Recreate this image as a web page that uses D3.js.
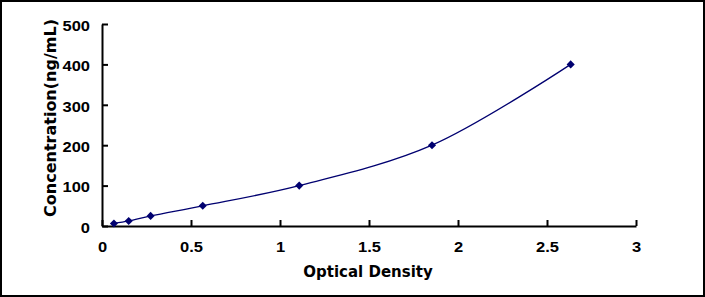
<!DOCTYPE html>
<html>
<head>
<meta charset="utf-8">
<script src="https://cdn.jsdelivr.net/npm/d3@7"></script>
<style>
  html, body { margin: 0; padding: 0; background: #fff; }
  svg { display: block; font-family: "DejaVu Sans", sans-serif; }
</style>
</head>
<body>
<div id="chart"></div>
<script>
// standard curve points
const opticalDensity = [0.067, 0.15, 0.273, 0.566, 1.108, 1.854, 2.633];
const concentration = [6.25, 12.5, 25, 50, 100, 200, 400];
const xTicks = [0, 0.5, 1, 1.5, 2, 2.5, 3];
const yTicks = [0, 100, 200, 300, 400, 500];

const width = 705, height = 297;
const plotLeft = 102, plotRight = 636, plotTop = 24, plotBottom = 226;
const labelStretch = 1.1; // tick labels in the source are wide

const svg = d3.select('#chart')
  .append('svg')
    .attr('width', width)
    .attr('height', height);

// outer frame
svg.append('rect')
  .attr('x', 1).attr('y', 1)
  .attr('width', width - 2).attr('height', height - 2)
  .attr('fill', '#fff')
  .attr('stroke', '#000')
  .attr('stroke-width', 2);

const x = d3.scaleLinear().domain([0, 3]).range([plotLeft, plotRight]);
const y = d3.scaleLinear().domain([0, 500]).range([plotBottom, plotTop]);

const xAxis = svg.append('g')
  .attr('transform', `translate(0,${plotBottom})`)
  .call(d3.axisBottom(x).tickValues(xTicks).tickSizeInner(-6).tickSizeOuter(0).tickPadding(0)
    .tickFormat(d => d3.format('')(d)));

const yAxis = svg.append('g')
  .attr('transform', `translate(${plotLeft},0)`)
  .call(d3.axisLeft(y).tickValues(yTicks).tickSizeInner(-6).tickSizeOuter(0).tickPadding(12));

[xAxis, yAxis].forEach(g => {
  g.select('.domain').attr('stroke', '#000').attr('stroke-width', 2);
  g.selectAll('.tick line').attr('stroke', '#000').attr('stroke-width', 2);
  g.selectAll('.tick text')
    .attr('fill', '#000')
    .style('font-size', '15px')
    .style('font-weight', 'bold');
});
xAxis.selectAll('.tick text')
  .attr('y', 26.5).attr('dy', null)
  .attr('transform', `scale(${labelStretch},1)`);
yAxis.selectAll('.tick text')
  .attr('dy', '0.42em')
  .attr('x', -12 / labelStretch)
  .attr('transform', `scale(${labelStretch},1)`);

// fitted curve
const pts = opticalDensity.map((d, i) => [d, concentration[i]]);
const line = d3.line()
  .x(d => x(d[0]))
  .y(d => y(d[1]))
  .curve(d3.curveCatmullRom.alpha(0.5));

svg.append('path')
  .datum(pts)
  .attr('d', line)
  .attr('fill', 'none')
  .attr('stroke', '#000070')
  .attr('stroke-width', 1.3);

// diamond markers
svg.selectAll('path.pt')
  .data(pts)
  .enter().append('path')
  .attr('class', 'pt')
  .attr('d', d3.symbol().type(d3.symbolDiamond2).size(42))
  .attr('transform', d => `translate(${x(d[0])},${y(d[1])})`)
  .attr('fill', '#000070');

// axis titles
svg.append('text')
  .attr('x', 368)
  .attr('y', 277)
  .attr('text-anchor', 'middle')
  .style('font-size', '15px')
  .style('font-weight', 'bold')
  .text('Optical Density');

svg.append('text')
  .attr('transform', `translate(56,118) rotate(-90)`)
  .attr('text-anchor', 'middle')
  .style('font-size', '16px')
  .style('font-weight', 'bold')
  .text('Concentration(ng/mL)');
</script>
</body>
</html>
